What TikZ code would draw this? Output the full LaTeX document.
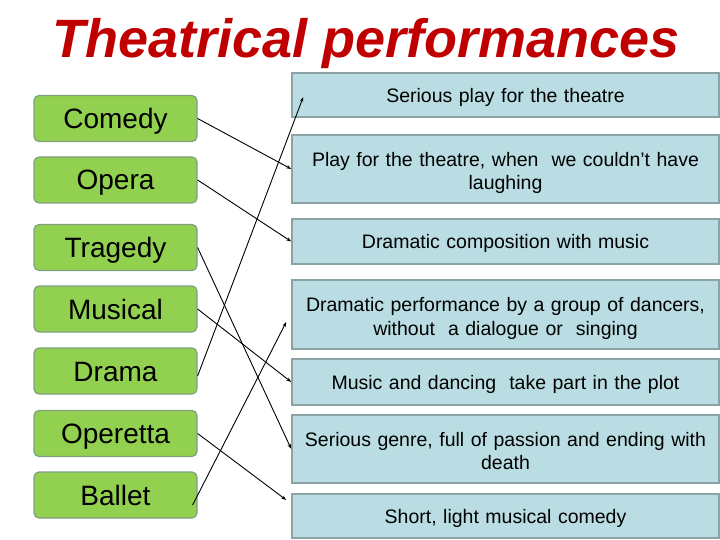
\documentclass[tikz,border=0pt]{standalone}
\usepackage{fontspec}
\setmainfont{Liberation Sans}
\usetikzlibrary{arrows.meta,calc}
\definecolor{lgreen}{HTML}{92D050}
\definecolor{gborder}{HTML}{7F9F80}
\definecolor{lblue}{HTML}{B9DDE3}
\definecolor{bborder}{HTML}{8CA3A6}
\definecolor{titlered}{HTML}{C00000}
\begin{document}
\begin{tikzpicture}[x=1pt,y=-1pt,
  genre/.style={draw=gborder, line width=1.2pt, fill=lgreen, rounded corners=5pt,
    minimum width=163pt, minimum height=46pt, inner sep=0pt,
    text height=20pt, text depth=0pt,
    font=\fontsize{28}{32}\selectfont},
  defn/.style={draw=bborder, line width=1.5pt, fill=lblue, minimum width=427pt,
    inner sep=0pt, align=center, text width=425pt, text depth=-3pt,
    font=\fontsize{19.5}{23.5}\selectfont},
  twoline/.style={text depth=20pt},
  link/.style={-{Stealth[length=5pt,width=3.5pt]}, line width=0.9pt}]
\useasboundingbox (0,0) rectangle (720,540);
\node[font=\fontsize{54}{60}\selectfont\bfseries\itshape, text=titlered] (title) at (366,44) {Theatrical performances};

\node[genre] (g1) at (115.5,118.5) {Comedy};
\node[genre] (g2) at (115.5,180) {Opera};
\node[genre] (g3) at (115.5,247.5) {Tragedy};
\node[genre] (g4) at (115.5,309) {Musical};
\node[genre] (g5) at (115.5,371) {Drama};
\node[genre] (g6) at (115.5,433.5) {Operetta};
\node[genre] (g7) at (115.5,495) {Ballet};

\node[defn, minimum height=44pt] (d1) at (505.5,95) {Serious play for the theatre};
\node[defn, twoline, minimum height=68pt] (d2) at (505.5,169) {Play for the theatre, when\ \ we couldn’t have\\ laughing};
\node[defn, minimum height=45pt] (d3) at (505.5,241.5) {Dramatic composition with music};
\node[defn, twoline, minimum height=69pt] (d4) at (505.5,314.5) {Dramatic performance by a group of dancers,\\ without\ \ a dialogue or\ \ singing};
\node[defn, minimum height=46pt] (d5) at (505.5,382) {Music and dancing\ \ take part in the plot};
\node[defn, twoline, minimum height=68pt] (d6) at (505.5,449) {Serious genre, full of passion and ending with\\ death};
\node[defn, minimum height=44pt] (d7) at (505.5,516) {Short, light musical comedy};

\draw[link] (g1.east) -- (d2.west);
\draw[link] (g2.east) -- (d3.west);
\draw[link] (g3.east) -- (d6.west);
\draw[link] (g4.east) -- (d5.west);
\draw[link] ($(g5.east)+(0,5)$) -- ($(d1.west)+(12,2)$);
\draw[link] (g6.east) -- ($(d7.west)+(-5,-16)$);
\draw[link] ($(g7.east)+(-5,10)$) -- ($(d4.west)+(-5,7.5)$);
\end{tikzpicture}
\end{document}
